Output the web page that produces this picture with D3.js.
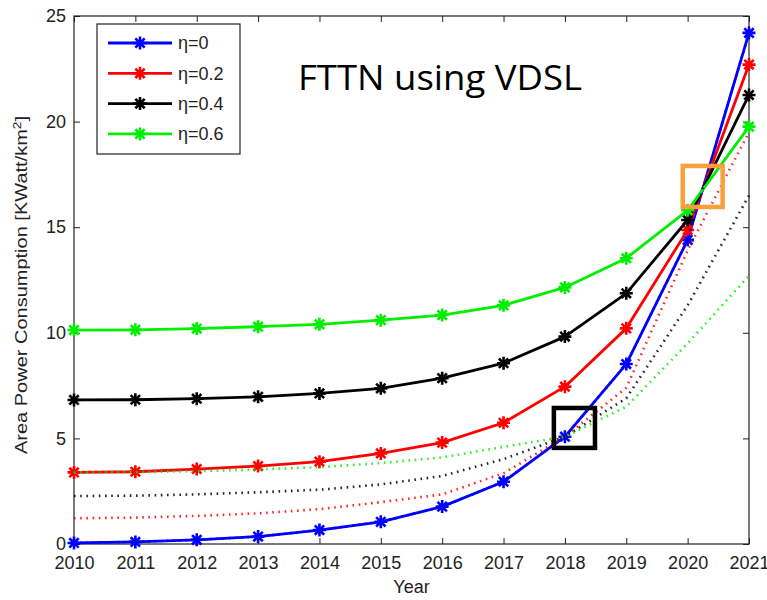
<!DOCTYPE html>
<html>
<head>
<meta charset="utf-8">
<script src="https://cdn.jsdelivr.net/npm/d3@7"></script>
<style>
  html, body { margin: 0; padding: 0; background: #fff; }
  svg { display: block; }
  .tick text { font-family: "Liberation Sans", Arial, sans-serif; font-size: 18px; fill: #222; }
</style>
</head>
<body>
<svg id="chart" width="767" height="600"></svg>
<script>
// Years on the x axis
const years = [2010, 2011, 2012, 2013, 2014, 2015, 2016, 2017, 2018, 2019, 2020, 2021];

// Area power consumption (kW/km^2), solid curves with markers
const eta0  = [0.05, 0.10, 0.20, 0.35, 0.66, 1.05, 1.77, 2.95, 5.08, 8.52, 14.40, 24.20];
const eta02 = [3.39, 3.42, 3.55, 3.69, 3.90, 4.29, 4.80, 5.74, 7.45, 10.21, 14.87, 22.70];
const eta04 = [6.82, 6.83, 6.88, 6.97, 7.13, 7.37, 7.85, 8.56, 9.82, 11.87, 15.34, 21.26];
const eta06 = [10.13, 10.14, 10.20, 10.29, 10.40, 10.60, 10.84, 11.30, 12.15, 13.53, 15.80, 19.76];

// Dotted companion curves
const eta0Dot  = [0.05, 0.10, 0.20, 0.35, 0.66, 1.05, 1.77, 2.95, 5.08, 8.52, 14.40, 24.20];
const eta02Dot = [1.22, 1.25, 1.33, 1.45, 1.65, 1.98, 2.35, 3.35, 5.08, 7.40, 13.90, 19.50];
const eta04Dot = [2.27, 2.29, 2.35, 2.45, 2.57, 2.82, 3.22, 4.02, 5.08, 6.90, 11.30, 16.50];
const eta06Dot = [3.38, 3.40, 3.45, 3.53, 3.64, 3.83, 4.10, 4.60, 5.08, 6.50, 9.50, 12.70];

const seriesNames  = ["\u03b7=0", "\u03b7=0.2", "\u03b7=0.4", "\u03b7=0.6"];
const seriesColors = ["#0000ff", "#ff0000", "#000000", "#00ee00"];
const solidSeries  = [eta0, eta02, eta04, eta06];
const dottedSeries = [eta0Dot, eta02Dot, eta04Dot, eta06Dot];

const yTicks = [0, 5, 10, 15, 20, 25];

// Highlight boxes in data units: [yearFrom, yearTo, valueLow, valueHigh]
const highlightBoxes = [
  { range: [2017.82, 2018.49, 4.55, 6.44], color: "#000000" },
  { range: [2019.92, 2020.57, 15.96, 17.90], color: "#f7a03c" }
];

const titleText = "FTTN using VDSL";
const xLabel = "Year";

const svg = d3.select("#chart");
const plot = { left: 74, right: 749, top: 16, bottom: 544 };

const x = d3.scaleLinear().domain([2010, 2021]).range([plot.left, plot.right]);
const y = d3.scaleLinear().domain([0, 25]).range([plot.bottom, plot.top]);

// Axes: MATLAB-style inward ticks on all four sides
const tickLen = 6;
svg.append("g")
  .attr("transform", `translate(0,${plot.bottom})`)
  .call(d3.axisBottom(x).tickValues(years).tickFormat(d3.format("d"))
        .tickSizeInner(-tickLen).tickSizeOuter(0).tickPadding(12))
  .call(g => g.select(".domain").remove());
svg.append("g")
  .attr("transform", `translate(0,${plot.top})`)
  .call(d3.axisTop(x).tickValues(years).tickFormat("")
        .tickSizeInner(-tickLen).tickSizeOuter(0))
  .call(g => g.select(".domain").remove());
svg.append("g")
  .attr("transform", `translate(${plot.left},0)`)
  .call(d3.axisLeft(y).tickValues(yTicks).tickFormat(d3.format("d"))
        .tickSizeInner(-tickLen).tickSizeOuter(0).tickPadding(8))
  .call(g => g.select(".domain").remove());
svg.append("g")
  .attr("transform", `translate(${plot.right},0)`)
  .call(d3.axisRight(y).tickValues(yTicks).tickFormat("")
        .tickSizeInner(-tickLen).tickSizeOuter(0))
  .call(g => g.select(".domain").remove());
svg.selectAll(".tick line").attr("stroke", "#222").attr("stroke-width", 1);

svg.append("rect")
  .attr("x", plot.left).attr("y", plot.top)
  .attr("width", plot.right - plot.left).attr("height", plot.bottom - plot.top)
  .attr("fill", "none").attr("stroke", "#222").attr("stroke-width", 1.2);

const line = d3.line().x((d, i) => x(years[i])).y(d => y(d));

// Asterisk marker
const star = r => {
  const k = r * 0.72;
  return `M${-r},0L${r},0M0,${-r}L0,${r}M${-k},${-k}L${k},${k}M${-k},${k}L${k},${-k}`;
};

// Solid curves with markers
solidSeries.forEach((vals, s) => {
  const g = svg.append("g");
  g.append("path").datum(vals).attr("d", line)
    .attr("fill", "none").attr("stroke", seriesColors[s])
    .attr("stroke-width", 2.8).attr("stroke-linejoin", "round");
  g.selectAll("path.mk").data(vals).join("path").attr("class", "mk")
    .attr("transform", (d, i) => `translate(${x(years[i])},${y(d)})`)
    .attr("d", star(6.5))
    .attr("stroke", seriesColors[s]).attr("stroke-width", 2.6).attr("fill", "none");
});

// Dotted curves
dottedSeries.forEach((vals, s) => {
  svg.append("path").datum(vals).attr("d", line)
    .attr("fill", "none").attr("stroke", seriesColors[s])
    .attr("stroke-opacity", 0.85)
    .attr("stroke-width", 2.6).attr("stroke-dasharray", "1.6,4.6");
});

// Axis titles
svg.append("text")
  .attr("x", (plot.left + plot.right) / 2).attr("y", 593)
  .attr("text-anchor", "middle")
  .attr("font-family", "Liberation Sans, Arial, sans-serif").attr("font-size", 18)
  .attr("fill", "#222").text(xLabel);

const yl = svg.append("text")
  .attr("transform", "translate(27,285) rotate(-90) scale(1.25,1)")
  .attr("text-anchor", "middle")
  .attr("font-family", "Liberation Sans, Arial, sans-serif").attr("font-size", 16)
  .attr("fill", "#222");
yl.append("tspan").text("Area Power Consumption [KWatt/km");
yl.append("tspan").attr("dy", -6).attr("font-size", 11).text("2");
yl.append("tspan").attr("dy", 6).text("]");

// Title inside the plot
svg.append("text")
  .attr("x", 298).attr("y", 90)
  .attr("font-family", "Open Sans, sans-serif").attr("font-size", 34)
  .attr("textLength", 284).attr("lengthAdjust", "spacingAndGlyphs")
  .attr("fill", "#000").text(titleText);

// Legend
const legend = svg.append("g");
legend.append("rect")
  .attr("x", 97).attr("y", 24).attr("width", 143).attr("height", 130)
  .attr("fill", "#fff").attr("stroke", "#222").attr("stroke-width", 1.2);
seriesNames.forEach((name, s) => {
  const ly = 43 + s * 30.3;
  legend.append("line").attr("x1", 108).attr("x2", 172).attr("y1", ly).attr("y2", ly)
    .attr("stroke", seriesColors[s]).attr("stroke-width", 2.8);
  legend.append("path").attr("transform", `translate(140,${ly})`).attr("d", star(6.5))
    .attr("stroke", seriesColors[s]).attr("stroke-width", 2.6);
  legend.append("text").attr("x", 178).attr("y", ly).attr("dy", "0.36em")
    .attr("font-family", "Liberation Sans, Arial, sans-serif").attr("font-size", 18)
    .attr("fill", "#222").text(name);
});

// Highlight boxes
highlightBoxes.forEach(b => {
  const [x0, x1, v0, v1] = b.range;
  svg.append("rect")
    .attr("x", x(x0)).attr("y", y(v1))
    .attr("width", x(x1) - x(x0)).attr("height", y(v0) - y(v1))
    .attr("fill", "none").attr("stroke", b.color).attr("stroke-width", 4.5);
});
</script>
</body>
</html>
